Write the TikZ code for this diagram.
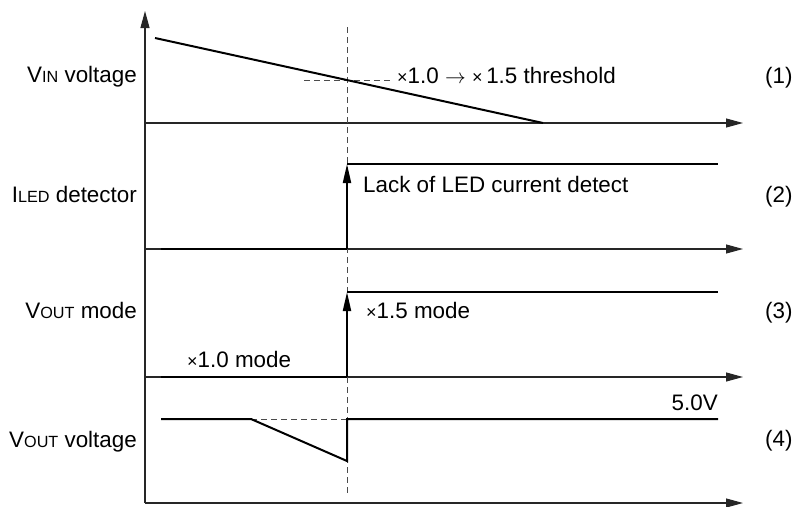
\documentclass[tikz,border=0pt]{standalone}
\usepackage{fontspec}
\setmainfont{Liberation Sans}
\usetikzlibrary{arrows.meta}
\newcommand\mysmc[1]{{\fontsize{16.2}{16.2}\selectfont #1}}
\newcommand\mytimes{{\fontsize{18}{18}\selectfont ×}}
\begin{document}
\begin{tikzpicture}[x=1pt,y=-1pt,
  axis/.style={line width=1.1pt, draw=black!85, -{Triangle[length=17pt,width=9pt]}},
  sig/.style={line width=2pt, line join=miter},
  guide/.style={line width=0.9pt, draw=black!70, dash pattern=on 6pt off 4pt},
  edgearrow/.style={line width=2pt, -{Triangle[length=19pt,width=8pt]}},
  lbl/.style={font=\fontsize{22.4}{22.4}\selectfont, inner sep=0pt}]
\useasboundingbox (0,0) rectangle (792,506);

% axes
\coordinate (o) at (145,503);
\coordinate (ytop) at (145,11);
\coordinate (a1s) at (145,123); \coordinate (a1e) at (743,123);
\coordinate (a2s) at (145,249); \coordinate (a2e) at (743,249);
\coordinate (a3s) at (145,377); \coordinate (a3e) at (743,377);
\coordinate (a4e) at (743,503);
\draw[axis] (o) -- (ytop);
\draw[axis] (a1s) -- (a1e);
\draw[axis] (a2s) -- (a2e);
\draw[axis] (a3s) -- (a3e);
\draw[axis] (o) -- (a4e);

% guides
\coordinate (gt) at (347,27); \coordinate (gb) at (347,493);
\draw[guide] (gt) -- (gb);
\coordinate (th1) at (304,80); \coordinate (th2) at (392,80);
\draw[guide] (th1) -- (th2);

% (1) VIN
\coordinate (v1) at (155,38); \coordinate (v2) at (543,123);
\draw[sig] (v1) -- (v2);

% (2) ILED
\coordinate (i1) at (161,249); \coordinate (i2) at (347,249);
\coordinate (i3) at (347,164); \coordinate (i4) at (718,164);
\draw[sig] (i1) -- (i2);
\draw[edgearrow] (i2) -- (i3);
\draw[sig] (i3) -- (i4);

% (3) VOUT mode
\coordinate (m1) at (161,377); \coordinate (m2) at (347,377);
\coordinate (m3) at (347,292); \coordinate (m4) at (718,292);
\draw[sig] (m1) -- (m2);
\draw[edgearrow] (m2) -- (m3);
\draw[sig] (m3) -- (m4);

% (4) VOUT voltage
\coordinate (w1) at (161,419); \coordinate (w2) at (251,419);
\coordinate (w3) at (347,461); \coordinate (w4) at (347,419);
\coordinate (w5) at (718,419);
\draw[guide] (w2) -- (w4);
\draw[sig] (w1) -- (w2) -- (w3) -- (w4) -- (w5);

% left labels
\node[lbl, anchor=base east] (l1) at (137,82) {V\mysmc{IN} voltage};
\node[lbl, anchor=base east] (l2) at (137,202) {I\mysmc{LED} detector};
\node[lbl, anchor=base east] (l3) at (137,318) {V\mysmc{OUT} mode};
\node[lbl, anchor=base east] (l4) at (137,447) {V\mysmc{OUT} voltage};

% right numbers
\node[lbl, anchor=base west] (n1) at (765,83) {(1)};
\node[lbl, anchor=base west] (n2) at (765,202) {(2)};
\node[lbl, anchor=base west] (n3) at (765,318) {(3)};
\node[lbl, anchor=base west] (n4) at (765,446) {(4)};

% annotations
\node[lbl, anchor=base west] (tthr) at (397,83) {\mytimes1.0 $\rightarrow$ \mytimes\,1.5 threshold};
\node[lbl, anchor=base west] (tlack) at (363,192) {Lack of LED current detect};
\node[lbl, anchor=base west] (tm15) at (366,318) {\mytimes1.5 mode};
\node[lbl, anchor=base west] (tm10) at (187,367) {\mytimes1.0 mode};
\node[lbl, anchor=base east] (t50) at (718,410) {5.0V};
\end{tikzpicture}
\end{document}
